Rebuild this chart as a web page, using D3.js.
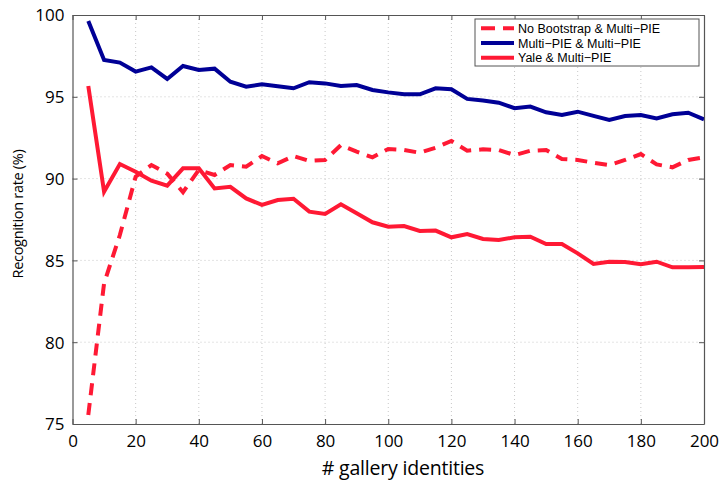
<!DOCTYPE html>
<html>
<head>
<meta charset="utf-8">
<script src="https://cdn.jsdelivr.net/npm/d3@7"></script>
<style>
  body { margin: 0; background: #fff; }
  svg { display: block; font-family: "Open Sans", "Noto Sans", sans-serif; }
</style>
</head>
<body>
<div id="chart"></div>
<script>
// gallery sizes 5..200
const galleryIds = [5, 10, 15, 20, 25, 30, 35, 40, 45, 50, 55, 60, 65, 70, 75, 80, 85, 90, 95, 100,
    105, 110, 115, 120, 125, 130, 135, 140, 145, 150, 155, 160, 165, 170, 175, 180, 185, 190, 195, 200];

const noBootstrap = [75.55, 83.6, 86.55, 90.12, 90.83, 90.3, 89.17, 90.53, 90.22, 90.83, 90.73, 91.38,
    90.93, 91.38, 91.08, 91.14, 92.05, 91.65, 91.3, 91.81, 91.75, 91.58, 91.89, 92.3, 91.71, 91.79,
    91.75, 91.44, 91.7, 91.75, 91.2, 91.14, 90.97, 90.83, 91.14, 91.5, 90.87, 90.69, 91.14, 91.3];

const multiPie = [99.63, 97.25, 97.09, 96.54, 96.8, 96.09, 96.88, 96.64, 96.72, 95.92, 95.62, 95.76,
    95.65, 95.52, 95.89, 95.82, 95.66, 95.72, 95.42, 95.27, 95.15, 95.15, 95.52, 95.46, 94.87, 94.77,
    94.64, 94.3, 94.4, 94.05, 93.89, 94.09, 93.83, 93.58, 93.83, 93.89, 93.68, 93.93, 94.03, 93.62];

const yale = [95.66, 89.2, 90.89, 90.42, 89.87, 89.57, 90.63, 90.63, 89.4, 89.5, 88.79, 88.39,
    88.69, 88.77, 87.98, 87.84, 88.43, 87.88, 87.33, 87.06, 87.1, 86.8, 86.82, 86.41, 86.61, 86.31,
    86.25, 86.41, 86.45, 86.0, 86.0, 85.43, 84.78, 84.92, 84.9, 84.76, 84.92, 84.58, 84.58, 84.6];

const seriesNames = ["No Bootstrap & Multi\u2212PIE", "Multi\u2212PIE & Multi\u2212PIE", "Yale & Multi\u2212PIE"];
const xTicks = [0, 20, 40, 60, 80, 100, 120, 140, 160, 180, 200];
const yTicks = [75, 80, 85, 90, 95, 100];

const width = 721, height = 484;
const margin = { top: 15, right: 17, bottom: 60, left: 72.5 };

const svg = d3.select("#chart").append("svg")
    .attr("width", width)
    .attr("height", height);

const x = d3.scaleLinear().domain([0, 200]).range([margin.left, width - margin.right]);
const y = d3.scaleLinear().domain([75, 100]).range([height - margin.bottom, margin.top]);

// dotted grid
const grid = svg.append("g");
grid.selectAll(".gx")
    .data(xTicks.slice(1, -1))
    .enter().append("line")
    .attr("x1", d => x(d)).attr("x2", d => x(d))
    .attr("y1", y(75)).attr("y2", y(100))
    .attr("stroke", "#c8c8c8")
    .attr("stroke-dasharray", "1,3");
grid.selectAll(".gy")
    .data(yTicks.slice(1, -1))
    .enter().append("line")
    .attr("x1", x(0)).attr("x2", x(200))
    .attr("y1", d => y(d)).attr("y2", d => y(d))
    .attr("stroke", "#c8c8c8")
    .attr("stroke-dasharray", "1,3");

// lines
const line = d3.line()
    .x((d, i) => x(galleryIds[i]))
    .y(d => y(d));

const series = [
    { values: multiPie, color: "#000096", dash: null },
    { values: yale, color: "#ff1934", dash: null },
    { values: noBootstrap, color: "#ff1934", dash: "12,8" }
];

svg.append("g").selectAll("path")
    .data(series)
    .enter().append("path")
    .attr("d", d => line(d.values))
    .attr("fill", "none")
    .attr("stroke", d => d.color)
    .attr("stroke-width", 4)
    .attr("stroke-dasharray", d => d.dash);

// axes with inward ticks on all sides
const axisColor = "#555";
const bottomAxis = svg.append("g")
    .attr("transform", `translate(0,${y(75)})`)
    .call(d3.axisBottom(x).tickValues(xTicks).tickSizeInner(-5).tickSizeOuter(0).tickPadding(8));
const topAxis = svg.append("g")
    .attr("transform", `translate(0,${y(100)})`)
    .call(d3.axisTop(x).tickValues(xTicks).tickSizeInner(-5).tickSizeOuter(0).tickFormat(""));
const leftAxis = svg.append("g")
    .attr("transform", `translate(${x(0)},0)`)
    .call(d3.axisLeft(y).tickValues(yTicks).tickSizeInner(-5).tickSizeOuter(0).tickPadding(8));
const rightAxis = svg.append("g")
    .attr("transform", `translate(${x(200)},0)`)
    .call(d3.axisRight(y).tickValues(yTicks).tickSizeInner(-5).tickSizeOuter(0).tickFormat(""));

[bottomAxis, topAxis, leftAxis, rightAxis].forEach(a => {
    a.select(".domain").attr("stroke", axisColor).attr("stroke-width", 1.2);
    a.selectAll(".tick line").attr("stroke", axisColor);
    a.selectAll(".tick text")
        .attr("fill", "#000")
        .style("font-size", "17px")
        .style("font-family", "'Open Sans', sans-serif");
});
bottomAxis.selectAll(".tick text").attr("dy", "0.9em");
leftAxis.selectAll(".tick text").attr("dy", "0.35em");

// axis titles
svg.append("text")
    .attr("x", 403)
    .attr("y", 475)
    .attr("text-anchor", "middle")
    .style("font-size", "19.5px")
    .style("letter-spacing", "-0.2px")
    .text("# gallery identities");

svg.append("text")
    .attr("transform", `translate(23,214) rotate(-90)`)
    .attr("text-anchor", "middle")
    .style("font-size", "14.5px")
    .style("letter-spacing", "-0.3px")
    .text("Recognition rate (%)");

// legend
const legend = svg.append("g").attr("transform", "translate(475,19)");
legend.append("rect")
    .attr("width", 224).attr("height", 47)
    .attr("fill", "#fff")
    .attr("stroke", "#555")
    .attr("stroke-width", 1);

const legendItems = [
    { name: seriesNames[0], color: "#ff1934", dash: "14,8" },
    { name: seriesNames[1], color: "#000096", dash: null },
    { name: seriesNames[2], color: "#ff1934", dash: null }
];

const li = legend.selectAll(".li")
    .data(legendItems)
    .enter().append("g")
    .attr("transform", (d, i) => `translate(0,${9.3 + i * 14.7})`);
li.append("line")
    .attr("x1", 6).attr("x2", 39)
    .attr("stroke", d => d.color)
    .attr("stroke-width", 4)
    .attr("stroke-dasharray", d => d.dash);
li.append("text")
    .attr("x", 43)
    .attr("dy", "0.36em")
    .style("font-family", "'Liberation Sans', Arial, sans-serif")
    .style("font-size", "12.5px")
    .text(d => d.name);
</script>
</body>
</html>
